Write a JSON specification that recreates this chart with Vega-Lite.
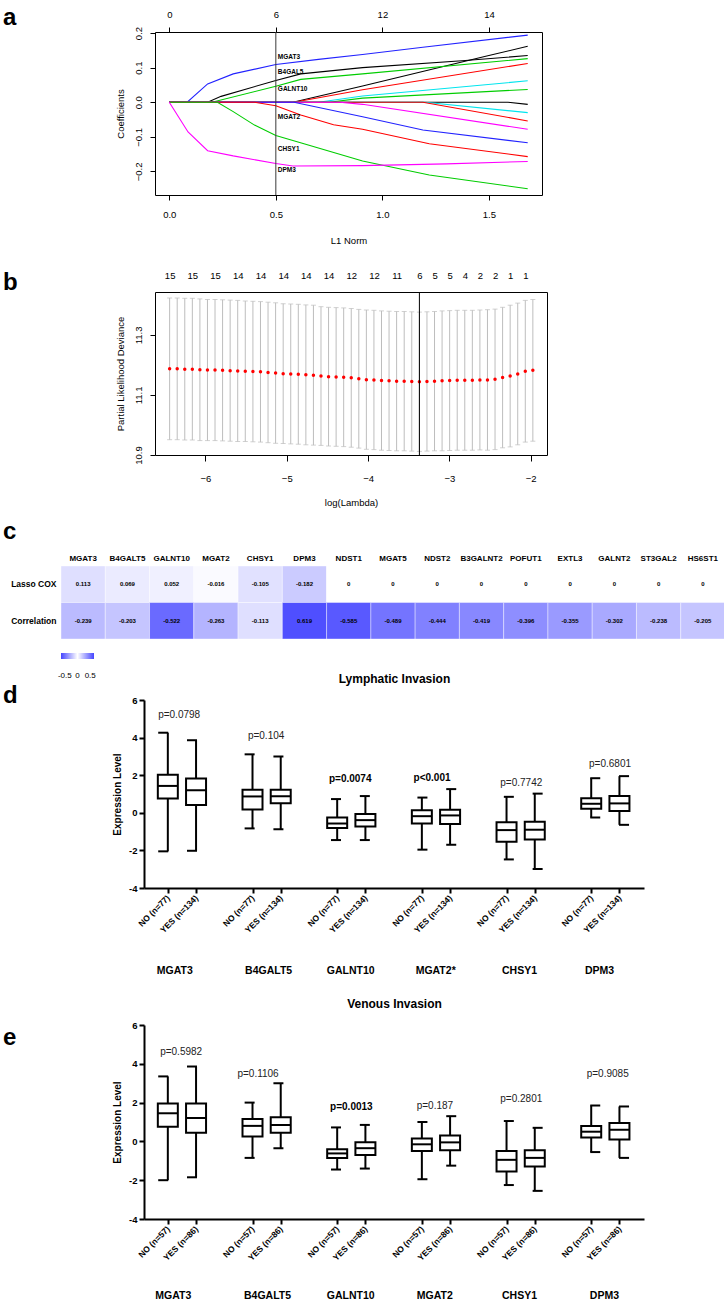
{
"$schema": "https://vega.github.io/schema/vega-lite/v6.json",
"background": "white",
"padding": {"left": 2, "top": 5, "right": 0, "bottom": 0},
"config": {
  "font": "Liberation Sans",
  "view": {"stroke": null},
  "axis": {"grid": false, "labelColor": "black", "titleColor": "black", "domainColor": "black", "tickColor": "black", "labelFlush": false, "labelOverlap": false, "labelFont": "Liberation Sans", "titleFont": "Liberation Sans"},
  "title": {"font": "Liberation Sans", "color": "black"}
},
"columns": 1, "align": "none", "spacing": 23,
"resolve": {"scale": {"color": "independent"}, "legend": {"color": "independent"}},
"concat": [
{
  "width": 387, "height": 163,
  "view": {"stroke": "black", "strokeWidth": 1},
  "title": {"text": "a", "anchor": "start", "frame": "group", "fontSize": 24, "fontWeight": "bold", "offset": 0, "dx": -152, "dy": 40, "baseline": "alphabetic"},
  "layer": [
    {"layer": [
      {"data": {"values": [
        {"s":"s1","L1":0,"coef":0},{"s":"s1","L1":0.084,"coef":0},{"s":"s1","L1":0.18,"coef":0.053},{"s":"s1","L1":0.30,"coef":0.082},{"s":"s1","L1":0.5,"coef":0.109},{"s":"s1","L1":0.70,"coef":0.124},{"s":"s1","L1":0.907,"coef":0.138},{"s":"s1","L1":1.19,"coef":0.159},{"s":"s1","L1":1.682,"coef":0.194},
        {"s":"s2","L1":0,"coef":0},{"s":"s2","L1":0.18,"coef":0},{"s":"s2","L1":0.243,"coef":0.017},{"s":"s2","L1":0.5,"coef":0.063},{"s":"s2","L1":0.617,"coef":0.082},{"s":"s2","L1":0.907,"coef":0.100},{"s":"s2","L1":1.374,"coef":0.12},{"s":"s2","L1":1.682,"coef":0.135},
        {"s":"s3","L1":0,"coef":0},{"s":"s3","L1":0.58,"coef":0},{"s":"s3","L1":0.907,"coef":0.047},{"s":"s3","L1":1.48,"coef":0.132},{"s":"s3","L1":1.682,"coef":0.162},
        {"s":"s4","L1":0,"coef":0},{"s":"s4","L1":0.2,"coef":0},{"s":"s4","L1":0.5,"coef":0.046},{"s":"s4","L1":0.617,"coef":0.066},{"s":"s4","L1":0.907,"coef":0.082},{"s":"s4","L1":1.682,"coef":0.126},
        {"s":"s5","L1":0,"coef":0},{"s":"s5","L1":0.585,"coef":0},{"s":"s5","L1":0.907,"coef":0.036},{"s":"s5","L1":1.682,"coef":0.112},
        {"s":"s6","L1":0,"coef":0},{"s":"s6","L1":0.7,"coef":0},{"s":"s6","L1":0.907,"coef":0.018},{"s":"s6","L1":1.682,"coef":0.062},
        {"s":"s7","L1":0,"coef":0},{"s":"s7","L1":0.75,"coef":0},{"s":"s7","L1":0.907,"coef":0.012},{"s":"s7","L1":1.682,"coef":0.037},
        {"s":"s8","L1":0,"coef":0},{"s":"s8","L1":1.59,"coef":0},{"s":"s8","L1":1.682,"coef":-0.006},
        {"s":"s9","L1":0,"coef":0},{"s":"s9","L1":1.2,"coef":0},{"s":"s9","L1":1.682,"coef":-0.030},
        {"s":"s10","L1":0,"coef":0},{"s":"s10","L1":1.19,"coef":0},{"s":"s10","L1":1.682,"coef":-0.054},
        {"s":"s11","L1":0,"coef":0},{"s":"s11","L1":0.8,"coef":0},{"s":"s11","L1":0.907,"coef":-0.006},{"s":"s11","L1":1.682,"coef":-0.078},
        {"s":"s12","L1":0,"coef":0},{"s":"s12","L1":0.585,"coef":0},{"s":"s12","L1":0.907,"coef":-0.042},{"s":"s12","L1":1.19,"coef":-0.08},{"s":"s12","L1":1.682,"coef":-0.117},
        {"s":"s13","L1":0,"coef":0},{"s":"s13","L1":0.4,"coef":0},{"s":"s13","L1":0.5,"coef":-0.01},{"s":"s13","L1":0.617,"coef":-0.037},{"s":"s13","L1":0.771,"coef":-0.065},{"s":"s13","L1":0.907,"coef":-0.078},{"s":"s13","L1":1.22,"coef":-0.12},{"s":"s13","L1":1.682,"coef":-0.157},
        {"s":"s14","L1":0,"coef":0},{"s":"s14","L1":0.226,"coef":0},{"s":"s14","L1":0.30,"coef":-0.027},{"s":"s14","L1":0.40,"coef":-0.066},{"s":"s14","L1":0.5,"coef":-0.096},{"s":"s14","L1":0.62,"coef":-0.118},{"s":"s14","L1":0.907,"coef":-0.17},{"s":"s14","L1":1.22,"coef":-0.21},{"s":"s14","L1":1.682,"coef":-0.25},
        {"s":"s15","L1":0,"coef":0},{"s":"s15","L1":0.088,"coef":-0.086},{"s":"s15","L1":0.18,"coef":-0.14},{"s":"s15","L1":0.30,"coef":-0.155},{"s":"s15","L1":0.5,"coef":-0.177},{"s":"s15","L1":0.58,"coef":-0.184},{"s":"s15","L1":0.907,"coef":-0.183},{"s":"s15","L1":1.30,"coef":-0.178},{"s":"s15","L1":1.682,"coef":-0.171}
      ]},
       "mark": {"type": "line", "strokeWidth": 1.1},
       "encoding": {
         "x": {"field": "L1", "type": "quantitative", "scale": {"domain": [-0.067, 1.749], "nice": false, "zero": false},
               "axis": {"values": [0, 0.5, 1, 1.5], "format": ".1f", "title": "L1 Norm", "titleFontWeight": "normal", "titleFontSize": 9.5, "labelFontSize": 9.5, "tickSize": 5, "labelPadding": 9, "titlePadding": 17, "domain": false}},
         "y": {"field": "coef", "type": "quantitative", "scale": {"domain": [-0.268, 0.203], "nice": false, "zero": false},
               "axis": {"values": [-0.2, -0.1, 0, 0.1, 0.2], "format": ".1f", "title": "Coefficients", "titleFontWeight": "normal", "titleFontSize": 9.5, "labelFontSize": 9.5, "labelAngle": -90, "labelAlign": "center", "labelBaseline": "bottom", "labelPadding": 7, "tickSize": 5, "domain": false, "titlePadding": 8}},
         "color": {"field": "s", "type": "nominal", "legend": null,
                   "scale": {"domain": ["s1","s2","s3","s4","s5","s6","s7","s8","s9","s10","s11","s12","s13","s14","s15"],
                             "range": ["#2222ff","#000000","#000000","#00cd00","#ff0000","#00e5ee","#00cd00","#000000","#00e5ee","#ff0000","#ff00ff","#2222ff","#ff0000","#00cd00","#ff00ff"]}}
       }},
      {"data": {"values": [
        {"L1":0.5,"coef":0.132,"label":"MGAT3"},{"L1":0.5,"coef":0.088,"label":"B4GAL5"},{"L1":0.5,"coef":0.038,"label":"GALNT10"},
        {"L1":0.5,"coef":-0.044,"label":"MGAT2"},{"L1":0.5,"coef":-0.135,"label":"CHSY1"},{"L1":0.5,"coef":-0.197,"label":"DPM3"}]},
       "mark": {"type": "text", "align": "left", "baseline": "middle", "dx": 2, "fontSize": 6.5, "fontWeight": "bold", "color": "black"},
       "encoding": {
         "x": {"field": "L1", "type": "quantitative", "scale": {"domain": [-0.067, 1.749], "nice": false, "zero": false}},
         "y": {"field": "coef", "type": "quantitative", "scale": {"domain": [-0.268, 0.203], "nice": false, "zero": false}},
         "text": {"field": "label"}
       }}
    ]},
    {"data": {"values": [{"L1": 0.5}]},
     "mark": {"type": "rule", "color": "#3a3a3a", "strokeWidth": 1},
     "encoding": {
       "x": {"field": "L1", "type": "quantitative", "scale": {"domain": [-0.067, 1.749], "nice": false, "zero": false},
             "axis": {"orient": "top", "values": [0, 0.5, 1, 1.5], "labelExpr": "datum.value == 0 ? '0' : datum.value == 0.5 ? '6' : datum.value == 1 ? '12' : '14'", "tickSize": 5, "labelPadding": 8, "domain": false, "title": null, "labelFontSize": 9.5}}
     }}
  ],
  "resolve": {"scale": {"x": "independent"}}
},
{"columns": 1, "align": "none", "spacing": 12, "resolve": {"scale": {"color": "independent"}, "legend": {"color": "independent"}}, "concat": [
{
  "width": 392, "height": 163,
  "view": {"stroke": "black", "strokeWidth": 1},
  "title": {"text": "b", "anchor": "start", "frame": "group", "fontSize": 24, "fontWeight": "bold", "offset": 0, "dx": -152, "dy": 44, "baseline": "alphabetic"},
  "layer": [
    {"data": {"values": [
      {"lam":-6.440,"mean":11.187,"sd":0.236},{"lam":-6.347,"mean":11.187,"sd":0.236},{"lam":-6.254,"mean":11.186,"sd":0.236},{"lam":-6.161,"mean":11.186,"sd":0.236},{"lam":-6.068,"mean":11.184,"sd":0.236},
      {"lam":-5.975,"mean":11.183,"sd":0.235},{"lam":-5.882,"mean":11.183,"sd":0.235},{"lam":-5.789,"mean":11.182,"sd":0.235},{"lam":-5.696,"mean":11.181,"sd":0.235},{"lam":-5.603,"mean":11.180,"sd":0.235},
      {"lam":-5.510,"mean":11.179,"sd":0.234},{"lam":-5.416,"mean":11.178,"sd":0.234},{"lam":-5.323,"mean":11.177,"sd":0.234},{"lam":-5.230,"mean":11.175,"sd":0.234},{"lam":-5.137,"mean":11.173,"sd":0.234},
      {"lam":-5.044,"mean":11.171,"sd":0.233},{"lam":-4.951,"mean":11.170,"sd":0.233},{"lam":-4.858,"mean":11.169,"sd":0.233},{"lam":-4.765,"mean":11.167,"sd":0.233},{"lam":-4.672,"mean":11.166,"sd":0.233},
      {"lam":-4.579,"mean":11.163,"sd":0.231},{"lam":-4.486,"mean":11.161,"sd":0.231},{"lam":-4.393,"mean":11.160,"sd":0.231},{"lam":-4.300,"mean":11.159,"sd":0.231},{"lam":-4.207,"mean":11.157,"sd":0.231},
      {"lam":-4.114,"mean":11.154,"sd":0.231},{"lam":-4.021,"mean":11.151,"sd":0.232},{"lam":-3.928,"mean":11.150,"sd":0.232},{"lam":-3.835,"mean":11.148,"sd":0.232},{"lam":-3.742,"mean":11.147,"sd":0.232},
      {"lam":-3.649,"mean":11.146,"sd":0.232},{"lam":-3.556,"mean":11.146,"sd":0.232},{"lam":-3.463,"mean":11.145,"sd":0.232},{"lam":-3.369,"mean":11.144,"sd":0.232},{"lam":-3.276,"mean":11.145,"sd":0.232},
      {"lam":-3.183,"mean":11.146,"sd":0.232},{"lam":-3.090,"mean":11.147,"sd":0.233},{"lam":-2.997,"mean":11.148,"sd":0.233},{"lam":-2.904,"mean":11.149,"sd":0.233},{"lam":-2.811,"mean":11.149,"sd":0.233},
      {"lam":-2.718,"mean":11.149,"sd":0.233},{"lam":-2.625,"mean":11.150,"sd":0.233},{"lam":-2.532,"mean":11.150,"sd":0.234},{"lam":-2.439,"mean":11.152,"sd":0.234},{"lam":-2.346,"mean":11.158,"sd":0.234},
      {"lam":-2.253,"mean":11.163,"sd":0.236},{"lam":-2.160,"mean":11.170,"sd":0.236},{"lam":-2.067,"mean":11.179,"sd":0.236},{"lam":-1.974,"mean":11.182,"sd":0.236}
     ]},
     "layer": [
      {"mark": {"type": "errorbar", "color": "#bdbdbd", "ticks": true},
       "encoding": {
         "x": {"field": "lam", "type": "quantitative", "scale": {"domain": [-6.62, -1.80], "nice": false, "zero": false},
               "axis": {"values": [-6, -5, -4, -3, -2], "format": "d", "title": "log(Lambda)", "titleFontWeight": "normal", "titleFontSize": 9.5, "labelFontSize": 9.5, "tickSize": 6, "labelPadding": 12, "titlePadding": 15, "domain": false}},
         "y": {"field": "mean", "type": "quantitative", "scale": {"domain": [10.9, 11.443], "nice": false, "zero": false},
               "axis": {"values": [10.9, 11.0, 11.1, 11.2, 11.3, 11.4], "labelExpr": "(datum.value == 10.9 || datum.value == 11.1 || datum.value == 11.3) ? format(datum.value, '.1f') : ''", "title": "Partial Likelihood Deviance", "titleFontWeight": "normal", "titleFontSize": 9.5, "labelFontSize": 9.5, "labelAngle": -90, "labelAlign": "center", "labelBaseline": "bottom", "labelPadding": 7, "tickSize": 5, "domain": false, "titlePadding": 8}},
         "yError": {"field": "sd"}
       }},
      {"mark": {"type": "circle", "color": "#ff0000", "size": 12, "opacity": 1},
       "encoding": {
         "x": {"field": "lam", "type": "quantitative", "scale": {"domain": [-6.62, -1.80], "nice": false, "zero": false}},
         "y": {"field": "mean", "type": "quantitative", "scale": {"domain": [10.9, 11.443], "nice": false, "zero": false}}
       }}
     ]},
    {"data": {"values": [{"lam": -3.369}]},
     "mark": {"type": "rule", "color": "black", "strokeWidth": 1},
     "encoding": {
       "x": {"field": "lam", "type": "quantitative", "scale": {"domain": [-6.62, -1.80], "nice": false, "zero": false},
             "axis": {"orient": "top", "values": [-6.440,-6.161,-5.882,-5.603,-5.323,-5.044,-4.765,-4.486,-4.207,-3.928,-3.649,-3.369,-3.183,-2.997,-2.811,-2.625,-2.439,-2.253,-2.067],
                      "labelExpr": "datum.value < -5.7 ? '15' : datum.value < -4.3 ? '14' : datum.value < -3.8 ? '12' : datum.value < -3.5 ? '11' : datum.value < -3.3 ? '6' : datum.value < -2.9 ? '5' : datum.value < -2.7 ? '4' : datum.value < -2.35 ? '2' : '1'",
                      "ticks": false, "tickSize": 0, "labelPadding": 12, "domain": false, "title": null, "labelFontSize": 9.5}}
     }}
  ],
  "resolve": {"scale": {"x": "independent"}}
},
{"columns": 1, "align": "none", "spacing": -8, "resolve": {"scale": {"color": "independent"}, "legend": {"color": "independent"}}, "concat": [
{
  "width": 570, "height": 73,
  "title": {"text": "c", "anchor": "start", "frame": "group", "fontSize": 24, "fontWeight": "bold", "offset": 0, "dx": -152, "dy": 9, "baseline": "alphabetic"},
  "data": {"values": [
    {"gene":"MGAT3","row":"Lasso COX","value":0.113,"label":"0.113"},{"gene":"B4GALT5","row":"Lasso COX","value":0.069,"label":"0.069"},{"gene":"GALNT10","row":"Lasso COX","value":0.052,"label":"0.052"},
    {"gene":"MGAT2","row":"Lasso COX","value":-0.016,"label":"-0.016"},{"gene":"CHSY1","row":"Lasso COX","value":-0.105,"label":"-0.105"},{"gene":"DPM3","row":"Lasso COX","value":-0.182,"label":"-0.182"},
    {"gene":"NDST1","row":"Lasso COX","value":0,"label":"0"},{"gene":"MGAT5","row":"Lasso COX","value":0,"label":"0"},{"gene":"NDST2","row":"Lasso COX","value":0,"label":"0"},
    {"gene":"B3GALNT2","row":"Lasso COX","value":0,"label":"0"},{"gene":"POFUT1","row":"Lasso COX","value":0,"label":"0"},{"gene":"EXTL3","row":"Lasso COX","value":0,"label":"0"},
    {"gene":"GALNT2","row":"Lasso COX","value":0,"label":"0"},{"gene":"ST3GAL2","row":"Lasso COX","value":0,"label":"0"},{"gene":"HS6ST1","row":"Lasso COX","value":0,"label":"0"},
    {"gene":"MGAT3","row":"Correlation","value":-0.239,"label":"-0.239"},{"gene":"B4GALT5","row":"Correlation","value":-0.203,"label":"-0.203"},{"gene":"GALNT10","row":"Correlation","value":-0.522,"label":"-0.522"},
    {"gene":"MGAT2","row":"Correlation","value":-0.263,"label":"-0.263"},{"gene":"CHSY1","row":"Correlation","value":-0.113,"label":"-0.113"},{"gene":"DPM3","row":"Correlation","value":0.619,"label":"0.619"},
    {"gene":"NDST1","row":"Correlation","value":-0.585,"label":"-0.585"},{"gene":"MGAT5","row":"Correlation","value":-0.489,"label":"-0.489"},{"gene":"NDST2","row":"Correlation","value":-0.444,"label":"-0.444"},
    {"gene":"B3GALNT2","row":"Correlation","value":-0.419,"label":"-0.419"},{"gene":"POFUT1","row":"Correlation","value":-0.396,"label":"-0.396"},{"gene":"EXTL3","row":"Correlation","value":-0.355,"label":"-0.355"},
    {"gene":"GALNT2","row":"Correlation","value":-0.302,"label":"-0.302"},{"gene":"ST3GAL2","row":"Correlation","value":-0.238,"label":"-0.238"},{"gene":"HS6ST1","row":"Correlation","value":-0.205,"label":"-0.205"}
  ]},
  "encoding": {
    "x": {"field": "gene", "type": "nominal", "sort": ["MGAT3","B4GALT5","GALNT10","MGAT2","CHSY1","DPM3","NDST1","MGAT5","NDST2","B3GALNT2","POFUT1","EXTL3","GALNT2","ST3GAL2","HS6ST1"],
          "scale": {"paddingInner": 0, "paddingOuter": 0, "range": [-94, 570]},
          "axis": {"orient": "top", "title": null, "labelAngle": 0, "labelFontSize": 8, "labelFontWeight": "bold", "ticks": false, "tickSize": 0, "domain": false, "labelPadding": 4}},
    "y": {"field": "row", "type": "nominal", "sort": ["Lasso COX", "Correlation"],
          "scale": {"paddingInner": 0, "paddingOuter": 0},
          "axis": {"title": null, "labelFontSize": 8.5, "labelFontWeight": "bold", "ticks": false, "tickSize": 0, "domain": false, "labelPadding": 5, "offset": 94}}
  },
  "layer": [
    {"mark": {"type": "rect", "stroke": "#ffffff", "strokeWidth": 0.4},
     "encoding": {"color": {"field": "value", "type": "quantitative",
        "scale": {"domain": [-0.65, 0, 0.65], "range": ["#4646ff", "#ffffff", "#4646ff"], "interpolate": "rgb"},
        "legend": {"orient": "none", "legendX": -94, "legendY": 87, "direction": "horizontal", "gradientLength": 33, "gradientThickness": 6, "values": [-0.5, 0, 0.5], "title": null, "labelFontSize": 8, "labelOffset": 13, "labelOverlap": false, "labelExpr": "datum.value < 0 ? '-0.5' : datum.value > 0 ? '0.5' : '0'", "gradientStrokeWidth": 0, "labelColor": "black", "padding": 0}}}},
    {"mark": {"type": "text", "fontSize": 6, "fontWeight": "bold", "color": "black"},
     "encoding": {"text": {"field": "label"}}}
  ]
},
{"columns": 1, "align": "none", "spacing": 21, "concat": [
{
  "width": 489, "height": 188,
  "title": {"text": "d", "anchor": "start", "frame": "group", "fontSize": 24, "fontWeight": "bold", "offset": 0, "dx": -152, "dy": 55, "baseline": "alphabetic"},
  "layer": [
    {"data": {"values": [
      {"pos":0.667,"min":-2.05,"q1":0.76,"med":1.43,"q3":2.02,"max":4.26},
      {"pos":1.667,"min":-2.02,"q1":0.42,"med":1.20,"q3":1.82,"max":3.86},
      {"pos":3.667,"min":-0.83,"q1":0.18,"med":0.87,"q3":1.22,"max":3.11},
      {"pos":4.667,"min":-0.88,"q1":0.51,"med":0.88,"q3":1.22,"max":2.99},
      {"pos":6.667,"min":-1.45,"q1":-0.81,"med":-0.57,"q3":-0.25,"max":0.73},
      {"pos":7.667,"min":-1.45,"q1":-0.73,"med":-0.39,"q3":-0.07,"max":0.89},
      {"pos":9.667,"min":-1.96,"q1":-0.57,"med":-0.18,"q3":0.14,"max":0.81},
      {"pos":10.667,"min":-1.70,"q1":-0.60,"med":-0.14,"q3":0.16,"max":1.26},
      {"pos":12.667,"min":-2.48,"q1":-1.54,"med":-0.92,"q3":-0.50,"max":0.85},
      {"pos":13.667,"min":-2.99,"q1":-1.42,"med":-0.90,"q3":-0.48,"max":1.02},
      {"pos":15.667,"min":-0.25,"q1":0.21,"med":0.48,"q3":0.78,"max":1.84},
      {"pos":16.667,"min":-0.64,"q1":0.09,"med":0.50,"q3":0.90,"max":1.95}
     ]},
     "layer": [
        {"mark": {"type": "rule", "strokeWidth": 2, "color": "black"},
         "encoding": {
           "x": {"field": "pos", "type": "quantitative", "scale": {"domain": [0, 17.36], "range": [-11, 489], "nice": false, "zero": false},
                 "axis": {"values": [0.667,1.667,3.667,4.667,6.667,7.667,9.667,10.667,12.667,13.667,15.667,16.667], "labelExpr": "(datum.value % 3) < 1 ? 'NO (n=77)' : 'YES (n=134)'", "labelAngle": -45, "labelAlign": "right", "labelBaseline": "middle", "labelFontSize": 8.5, "labelFontWeight": "bold", "labelOverlap": false, "tickSize": 5, "tickWidth": 2, "domainWidth": 2, "labelPadding": 3, "title": null}},
           "y": {"field": "min", "type": "quantitative", "scale": {"domain": [-4, 6], "nice": false, "zero": false},
                 "axis": {"orient": "left", "offset": 11, "values": [-4, 0, 4], "labelExpr": "datum.value < 0 ? '-' + (-datum.value) : '' + datum.value", "labelOverlap": false, "title": "Expression Level", "titleFontSize": 10, "titleFontWeight": "bold", "labelFontSize": 9.5, "labelFontWeight": "bold", "tickSize": 5, "tickWidth": 2, "domainWidth": 2, "labelPadding": 2, "titlePadding": 6}},
           "y2": {"field": "max"}
         }},
        {"mark": {"type": "bar", "width": 20, "fill": "white", "stroke": "black", "strokeWidth": 2},
         "encoding": {
           "x": {"field": "pos", "type": "quantitative", "scale": {"domain": [0, 17.36], "range": [-11, 489], "nice": false, "zero": false}},
           "y": {"field": "q1", "type": "quantitative", "scale": {"domain": [-4, 6], "nice": false, "zero": false}},
           "y2": {"field": "q3"}
         }},
        {"mark": {"type": "tick", "orient": "horizontal", "size": 20, "thickness": 2, "color": "black", "opacity": 1},
         "encoding": {
           "x": {"field": "pos", "type": "quantitative", "scale": {"domain": [0, 17.36], "range": [-11, 489], "nice": false, "zero": false}},
           "y": {"field": "med", "type": "quantitative", "scale": {"domain": [-4, 6], "nice": false, "zero": false}}
         }}
     ]},
    {"data": {"values": [
      {"pos":0.667,"min":-2.05,"max":4.26},{"pos":1.667,"min":-2.02,"max":3.86},{"pos":3.667,"min":-0.83,"max":3.11},{"pos":4.667,"min":-0.88,"max":2.99},
      {"pos":6.667,"min":-1.45,"max":0.73},{"pos":7.667,"min":-1.45,"max":0.89},{"pos":9.667,"min":-1.96,"max":0.81},{"pos":10.667,"min":-1.70,"max":1.26},
      {"pos":12.667,"min":-2.48,"max":0.85},{"pos":13.667,"min":-2.99,"max":1.02},{"pos":15.667,"min":-0.25,"max":1.84},{"pos":16.667,"min":-0.64,"max":1.95}
     ]},
     "layer": [
      {"mark": {"type": "tick", "orient": "horizontal", "size": 10, "thickness": 2, "color": "black", "opacity": 1},
       "encoding": {
         "x": {"field": "pos", "type": "quantitative", "scale": {"domain": [0, 17.36], "range": [-11, 489], "nice": false, "zero": false},
               "axis": {"orient": "top", "labels": false, "ticks": false, "tickSize": 0, "domain": false, "title": "Lymphatic Invasion", "titleFontSize": 12, "titleFontWeight": "bold", "titlePadding": 15}},
         "y": {"field": "min", "type": "quantitative", "scale": {"domain": [-4, 6], "nice": false, "zero": false},
               "axis": {"orient": "left", "offset": 11, "values": [-2, 2, 6], "labelExpr": "datum.value < 0 ? '-' + (-datum.value) : '' + datum.value", "labelOverlap": false, "title": null, "domain": false, "labelFontSize": 9.5, "labelFontWeight": "bold", "tickSize": 5, "tickWidth": 2, "labelPadding": 2}}
       }},
      {"mark": {"type": "tick", "orient": "horizontal", "size": 10, "thickness": 2, "color": "black", "opacity": 1},
       "encoding": {
         "x": {"field": "pos", "type": "quantitative", "scale": {"domain": [0, 17.36], "range": [-11, 489], "nice": false, "zero": false}},
         "y": {"field": "max", "type": "quantitative", "scale": {"domain": [-4, 6], "nice": false, "zero": false}}
       }}
     ]},
    {"layer": [
      {"data": {"values": [
        {"px":1.22,"py":5.2,"label":"p=0.0798"},{"px":4.24,"py":4.08,"label":"p=0.104"},{"px":13.1,"py":1.6,"label":"p=0.7742"},{"px":16.18,"py":2.6,"label":"p=0.6801"}]},
       "mark": {"type": "text", "fontSize": 10, "baseline": "middle", "color": "#222222"},
       "encoding": {
         "x": {"field": "px", "type": "quantitative", "scale": {"domain": [0, 17.36], "range": [-11, 489], "nice": false, "zero": false},
               "axis": {"orient": "bottom", "values": [1.05, 4.31, 7.16, 10.11, 13.02, 15.8], "labelExpr": "datum.value < 2 ? 'MGAT3' : datum.value < 5 ? 'B4GALT5' : datum.value < 8 ? 'GALNT10' : datum.value < 11 ? 'MGAT2*' : datum.value < 14 ? 'CHSY1' : 'DPM3'", "ticks": false, "tickSize": 0, "domain": false, "offset": 77, "labelPadding": 0, "labelFontSize": 10.5, "labelFontWeight": "bold", "labelAngle": 0, "labelBaseline": "top", "title": null}},
         "y": {"field": "py", "type": "quantitative", "scale": {"domain": [-4, 6], "nice": false, "zero": false}, "axis": null},
         "text": {"field": "label"}
       }},
      {"data": {"values": [
        {"px":7.16,"py":1.8,"label":"p=0.0074"},{"px":10.0,"py":1.86,"label":"p<0.001"}]},
       "mark": {"type": "text", "fontSize": 10, "fontWeight": "bold", "baseline": "middle", "color": "black"},
       "encoding": {
         "x": {"field": "px", "type": "quantitative", "scale": {"domain": [0, 17.36], "range": [-11, 489], "nice": false, "zero": false}},
         "y": {"field": "py", "type": "quantitative", "scale": {"domain": [-4, 6], "nice": false, "zero": false}, "axis": null},
         "text": {"field": "label"}
       }}
    ]}
  ],
  "resolve": {"scale": {"x": "independent"}, "axis": {"y": "independent"}}
},
{
  "width": 489, "height": 194,
  "title": {"text": "e", "anchor": "start", "frame": "group", "fontSize": 24, "fontWeight": "bold", "offset": 0, "dx": -152, "dy": 72, "baseline": "alphabetic"},
  "layer": [
    {"data": {"values": [
      {"pos":0.667,"min":-2.0,"q1":0.75,"med":1.45,"q3":1.95,"max":3.35},
      {"pos":1.667,"min":-1.85,"q1":0.45,"med":1.2,"q3":1.95,"max":3.86},
      {"pos":3.667,"min":-0.85,"q1":0.25,"med":0.8,"q3":1.15,"max":2.0},
      {"pos":4.667,"min":-0.35,"q1":0.45,"med":0.85,"q3":1.25,"max":3.0},
      {"pos":6.667,"min":-1.45,"q1":-0.85,"med":-0.62,"q3":-0.4,"max":0.72},
      {"pos":7.667,"min":-1.4,"q1":-0.7,"med":-0.35,"q3":-0.05,"max":0.85},
      {"pos":9.667,"min":-1.95,"q1":-0.5,"med":-0.15,"q3":0.15,"max":1.0},
      {"pos":10.667,"min":-1.25,"q1":-0.45,"med":-0.05,"q3":0.3,"max":1.3},
      {"pos":12.667,"min":-2.25,"q1":-1.55,"med":-0.95,"q3":-0.5,"max":1.05},
      {"pos":13.667,"min":-2.55,"q1":-1.3,"med":-0.85,"q3":-0.45,"max":0.7},
      {"pos":15.667,"min":-0.55,"q1":0.2,"med":0.5,"q3":0.8,"max":1.85},
      {"pos":16.667,"min":-0.85,"q1":0.1,"med":0.6,"q3":0.95,"max":1.8}
     ]},
     "layer": [
        {"mark": {"type": "rule", "strokeWidth": 2, "color": "black"},
         "encoding": {
           "x": {"field": "pos", "type": "quantitative", "scale": {"domain": [0, 17.36], "range": [-11, 489], "nice": false, "zero": false},
                 "axis": {"values": [0.667,1.667,3.667,4.667,6.667,7.667,9.667,10.667,12.667,13.667,15.667,16.667], "labelExpr": "(datum.value % 3) < 1 ? 'NO (n=57)' : 'YES (n=86)'", "labelAngle": -45, "labelAlign": "right", "labelBaseline": "middle", "labelFontSize": 8.5, "labelFontWeight": "bold", "labelOverlap": false, "tickSize": 5, "tickWidth": 2, "domainWidth": 2, "labelPadding": 3, "title": null}},
           "y": {"field": "min", "type": "quantitative", "scale": {"domain": [-4, 6], "nice": false, "zero": false},
                 "axis": {"orient": "left", "offset": 11, "values": [-4, 0, 4], "labelExpr": "datum.value < 0 ? '-' + (-datum.value) : '' + datum.value", "labelOverlap": false, "title": "Expression Level", "titleFontSize": 10, "titleFontWeight": "bold", "labelFontSize": 9.5, "labelFontWeight": "bold", "tickSize": 5, "tickWidth": 2, "domainWidth": 2, "labelPadding": 2, "titlePadding": 6}},
           "y2": {"field": "max"}
         }},
        {"mark": {"type": "bar", "width": 20, "fill": "white", "stroke": "black", "strokeWidth": 2},
         "encoding": {
           "x": {"field": "pos", "type": "quantitative", "scale": {"domain": [0, 17.36], "range": [-11, 489], "nice": false, "zero": false}},
           "y": {"field": "q1", "type": "quantitative", "scale": {"domain": [-4, 6], "nice": false, "zero": false}},
           "y2": {"field": "q3"}
         }},
        {"mark": {"type": "tick", "orient": "horizontal", "size": 20, "thickness": 2, "color": "black", "opacity": 1},
         "encoding": {
           "x": {"field": "pos", "type": "quantitative", "scale": {"domain": [0, 17.36], "range": [-11, 489], "nice": false, "zero": false}},
           "y": {"field": "med", "type": "quantitative", "scale": {"domain": [-4, 6], "nice": false, "zero": false}}
         }}
     ]},
    {"data": {"values": [
      {"pos":0.667,"min":-2.0,"max":3.35},{"pos":1.667,"min":-1.85,"max":3.86},{"pos":3.667,"min":-0.85,"max":2.0},{"pos":4.667,"min":-0.35,"max":3.0},
      {"pos":6.667,"min":-1.45,"max":0.72},{"pos":7.667,"min":-1.4,"max":0.85},{"pos":9.667,"min":-1.95,"max":1.0},{"pos":10.667,"min":-1.25,"max":1.3},
      {"pos":12.667,"min":-2.25,"max":1.05},{"pos":13.667,"min":-2.55,"max":0.7},{"pos":15.667,"min":-0.55,"max":1.85},{"pos":16.667,"min":-0.85,"max":1.8}
     ]},
     "layer": [
      {"mark": {"type": "tick", "orient": "horizontal", "size": 10, "thickness": 2, "color": "black", "opacity": 1},
       "encoding": {
         "x": {"field": "pos", "type": "quantitative", "scale": {"domain": [0, 17.36], "range": [-11, 489], "nice": false, "zero": false},
               "axis": {"orient": "top", "labels": false, "ticks": false, "tickSize": 0, "domain": false, "title": "Venous Invasion", "titleFontSize": 12, "titleFontWeight": "bold", "titlePadding": 15}},
         "y": {"field": "min", "type": "quantitative", "scale": {"domain": [-4, 6], "nice": false, "zero": false},
               "axis": {"orient": "left", "offset": 11, "values": [-2, 2, 6], "labelExpr": "datum.value < 0 ? '-' + (-datum.value) : '' + datum.value", "labelOverlap": false, "title": null, "domain": false, "labelFontSize": 9.5, "labelFontWeight": "bold", "tickSize": 5, "tickWidth": 2, "labelPadding": 2}}
       }},
      {"mark": {"type": "tick", "orient": "horizontal", "size": 10, "thickness": 2, "color": "black", "opacity": 1},
       "encoding": {
         "x": {"field": "pos", "type": "quantitative", "scale": {"domain": [0, 17.36], "range": [-11, 489], "nice": false, "zero": false}},
         "y": {"field": "max", "type": "quantitative", "scale": {"domain": [-4, 6], "nice": false, "zero": false}}
       }}
     ]},
    {"layer": [
      {"data": {"values": [
        {"px":1.29,"py":4.6,"label":"p=0.5982"},{"px":3.96,"py":3.45,"label":"p=0.1106"},{"px":10.1,"py":1.85,"label":"p=0.187"},{"px":13.1,"py":2.2,"label":"p=0.2801"},{"px":16.1,"py":3.5,"label":"p=0.9085"}]},
       "mark": {"type": "text", "fontSize": 10, "baseline": "middle", "color": "#222222"},
       "encoding": {
         "x": {"field": "px", "type": "quantitative", "scale": {"domain": [0, 17.36], "range": [-11, 489], "nice": false, "zero": false},
               "axis": {"orient": "bottom", "values": [1.0, 4.27, 7.16, 10.08, 13.02, 15.97], "labelExpr": "datum.value < 2 ? 'MGAT3' : datum.value < 5 ? 'B4GALT5' : datum.value < 8 ? 'GALNT10' : datum.value < 11 ? 'MGAT2' : datum.value < 14 ? 'CHSY1' : 'DPM3'", "ticks": false, "tickSize": 0, "domain": false, "offset": 71, "labelPadding": 0, "labelFontSize": 10.5, "labelFontWeight": "bold", "labelAngle": 0, "labelBaseline": "top", "title": null}},
         "y": {"field": "py", "type": "quantitative", "scale": {"domain": [-4, 6], "nice": false, "zero": false}, "axis": null},
         "text": {"field": "label"}
       }},
      {"data": {"values": [
        {"px":7.2,"py":1.75,"label":"p=0.0013"}]},
       "mark": {"type": "text", "fontSize": 10, "fontWeight": "bold", "baseline": "middle", "color": "black"},
       "encoding": {
         "x": {"field": "px", "type": "quantitative", "scale": {"domain": [0, 17.36], "range": [-11, 489], "nice": false, "zero": false}},
         "y": {"field": "py", "type": "quantitative", "scale": {"domain": [-4, 6], "nice": false, "zero": false}, "axis": null},
         "text": {"field": "label"}
       }}
    ]}
  ],
  "resolve": {"scale": {"x": "independent"}, "axis": {"y": "independent"}}
}
]}
]}
]}
]
}
